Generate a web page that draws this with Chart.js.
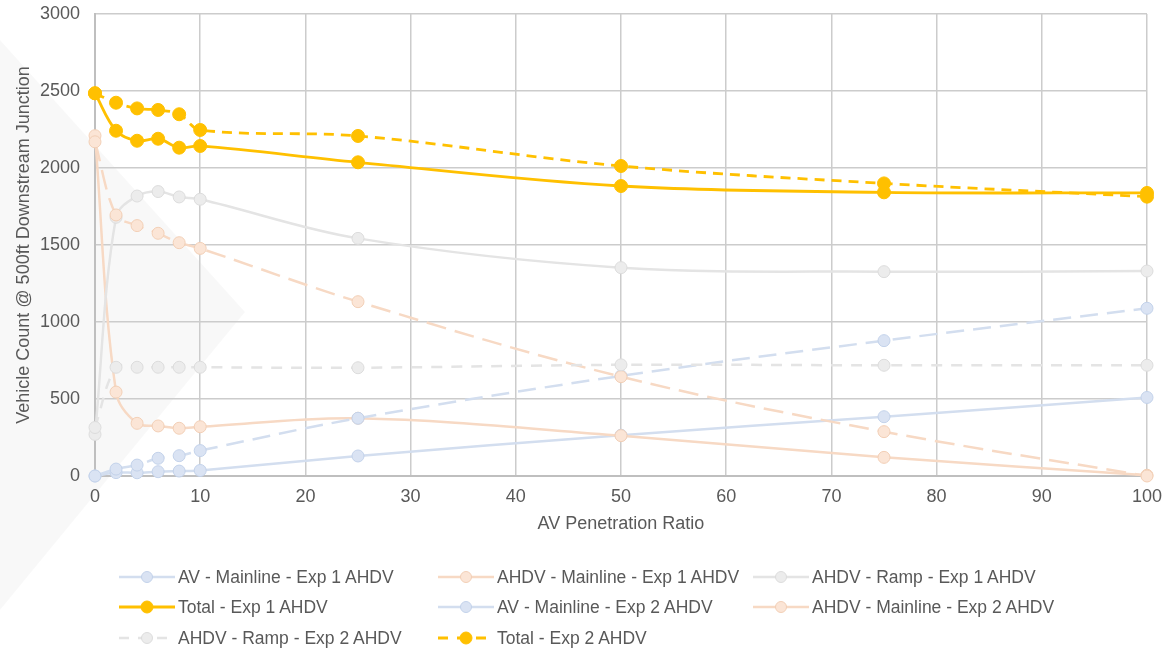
<!DOCTYPE html>
<html>
<head>
<meta charset="utf-8">
<script src="https://cdn.jsdelivr.net/npm/chart.js@4"></script>
<style>
  body { margin: 0; background: #fff; }
  #wrap { position: relative; width: 1163px; height: 651px; font-family: 'Liberation Sans', Arial, sans-serif; }
  #legend { position: absolute; left: 0; top: 0; width: 1163px; height: 651px; pointer-events: none; }
  .item { position: absolute; display: flex; align-items: center; color: #595959; font-size: 17.5px; white-space: nowrap; }
  .item svg { margin-right: 3px; }
</style>
</head>
<body>
<div id="wrap">
  <canvas id="c" width="1163" height="651"></canvas>
  <div id="legend"></div>
</div>
<script>
/* Vehicle count vs AV penetration, 8 smoothed scatter series (Exp 1 solid, Exp 2 dashed) */

const xValues = [0, 2, 4, 6, 8, 10, 25, 50, 75, 100];
const avMain1 = [0, 22, 21, 28, 32, 36, 130, 265, 385, 510];
const ahdvMain1 = [2210, 545, 342, 325, 310, 320, 375, 262, 121, 5];
const ahdvRamp1 = [270, 1680, 1818, 1847, 1812, 1797, 1543, 1353, 1327, 1331];
const total1 = [2485, 2242, 2177, 2190, 2132, 2143, 2037, 1883, 1842, 1838];
const avMain2 = [0, 45, 71, 115, 132, 165, 375, 650, 879, 1089];
const ahdvMain2 = [2170, 1695, 1626, 1576, 1515, 1478, 1132, 645, 288, 0];
const ahdvRamp2 = [315, 706, 706, 706, 706, 706, 703, 722, 719, 719];
const total2 = [2485, 2424, 2387, 2377, 2349, 2247, 2208, 2013, 1900, 1814];

const BLUE = '#d3deef', BLUE_PT = '#dae3f3', BLUE_EDGE = '#c3d2ea';
const PEACH = '#f7d9c4', PEACH_PT = '#fbe5d6', PEACH_EDGE = '#f2cfb6';
const GREY = '#e4e4e4', GREY_PT = '#ececec', GREY_EDGE = '#dcdcdc';
const GOLD = '#ffc000';
const TEXT = '#595959';

// legDash: how the legend sample is drawn (long dashes look solid at sample length)
const series = [
  { label: 'AV - Mainline - Exp 1 AHDV', data: avMain1, line: BLUE, pt: BLUE_PT, edge: BLUE_EDGE, dash: [], legDash: '' },
  { label: 'AHDV - Mainline - Exp 1 AHDV', data: ahdvMain1, line: PEACH, pt: PEACH_PT, edge: PEACH_EDGE, dash: [], legDash: '' },
  { label: 'AHDV - Ramp - Exp 1 AHDV', data: ahdvRamp1, line: GREY, pt: GREY_PT, edge: GREY_EDGE, dash: [], legDash: '' },
  { label: 'Total - Exp 1 AHDV', data: total1, line: GOLD, pt: GOLD, edge: GOLD, dash: [], legDash: '', w: 2.8, r: 6.5 },
  { label: 'AV - Mainline - Exp 2 AHDV', data: avMain2, line: BLUE, pt: BLUE_PT, edge: BLUE_EDGE, dash: [18, 9], legDash: '' },
  { label: 'AHDV - Mainline - Exp 2 AHDV', data: ahdvMain2, line: PEACH, pt: PEACH_PT, edge: PEACH_EDGE, dash: [20, 9], legDash: '' },
  { label: 'AHDV - Ramp - Exp 2 AHDV', data: ahdvRamp2, line: GREY, pt: GREY_PT, edge: GREY_EDGE, dash: [11, 9], legDash: '10 9' },
  { label: 'Total - Exp 2 AHDV', data: total2, line: GOLD, pt: GOLD, edge: GOLD, dash: [10, 7], legDash: '10 9', w: 2.8, r: 6.5 },
];

const datasets = series.map((s, i) => ({
  label: s.label,
  data: xValues.map((x, j) => ({ x, y: s.data[j] })),
  borderColor: s.line,
  borderWidth: s.w || 2.5,
  borderDash: s.dash,
  tension: 0.35,
  pointRadius: s.r || 6,
  pointBackgroundColor: s.pt,
  pointBorderColor: s.edge,
  pointBorderWidth: 1,
  clip: false,
  order: 7 - i,
}));

// faint chevron behind the plot, like the slide background
const backdrop = {
  id: 'backdrop',
  beforeDraw(chart) {
    const ctx = chart.ctx;
    ctx.save();
    ctx.fillStyle = 'rgba(0,0,0,0.028)';
    ctx.beginPath();
    ctx.moveTo(0, 40);
    ctx.lineTo(245, 312);
    ctx.lineTo(0, 610);
    ctx.closePath();
    ctx.fill();
    ctx.restore();
  },
};

const font = { family: "'Liberation Sans', Arial, sans-serif", size: 18 };
const plain = (v) => String(v);

new Chart(document.getElementById('c'), {
  type: 'line',
  data: { datasets },
  plugins: [backdrop],
  options: {
    responsive: false,
    animation: false,
    layout: { padding: { top: 14, right: 16, bottom: 110, left: 0 } },
    plugins: { legend: { display: false }, tooltip: { enabled: false } },
    scales: {
      x: {
        type: 'linear', min: 0, max: 100,
        ticks: { stepSize: 10, color: TEXT, font, padding: 10, callback: plain },
        grid: { color: '#cccccc', lineWidth: 1.5, drawTicks: false },
        border: { color: '#bfbfbf', width: 2 },
        title: { display: true, text: 'AV Penetration Ratio', color: TEXT, font, padding: { top: 4, bottom: 6 } },
        afterFit(s) { s.height = 65; s.paddingLeft = 0; s.paddingRight = 0; },
      },
      y: {
        min: 0, max: 3000,
        ticks: { stepSize: 500, color: TEXT, font, padding: 15, callback: plain },
        grid: { color: '#cccccc', lineWidth: 1.5, drawTicks: false },
        border: { color: '#bfbfbf', width: 2 },
        title: { display: true, text: 'Vehicle Count @ 500ft Downstream Junction', color: TEXT, font, padding: { top: 13, bottom: 4 } },
        afterFit(s) { s.width = 95; s.paddingTop = 0; s.paddingBottom = 0; },
      },
    },
  },
});

// legend laid out in three aligned columns, as in the original
const cols = [118, 437, 752];
const rows = [577, 607, 638];
const legend = document.getElementById('legend');
series.forEach((s, i) => {
  const d = document.createElement('div');
  d.className = 'item';
  d.style.left = cols[i % 3] + 'px';
  d.style.top = (rows[Math.floor(i / 3)] - 11) + 'px';
  d.style.height = '22px';
  const dash = s.legDash ? `stroke-dasharray="${s.legDash}"` : '';
  const r = s.r ? 6 : 5.5;
  d.innerHTML = `<svg width="57" height="16"><line x1="1" y1="8" x2="57" y2="8" stroke="${s.line}" stroke-width="${s.w || 2.5}" ${dash}/>` +
    `<circle cx="29" cy="8" r="${r}" fill="${s.pt}" stroke="${s.edge}" stroke-width="1"/></svg><span>${s.label}</span>`;
  legend.appendChild(d);
});
</script>
</body>
</html>
